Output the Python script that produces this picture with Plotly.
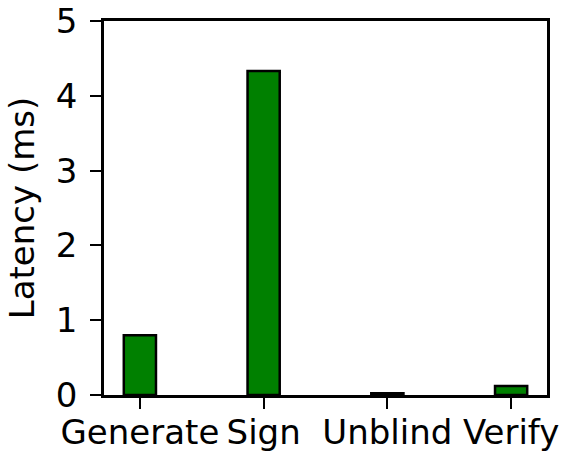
import plotly.graph_objects as go

categories = ["Generate", "Sign", "Unblind", "Verify"]
latency_ms = [0.80, 4.33, 0.025, 0.12]
y_ticks = [0, 1, 2, 3, 4, 5]

FONT = "DejaVu Sans"
FS = 34

fig = go.Figure()
fig.add_trace(go.Bar(
    x=categories,
    y=latency_ms,
    width=0.26,
    marker=dict(color="#008000", line=dict(color="black", width=2.5)),
))

fig.update_layout(
    width=562, height=453,
    margin=dict(l=104, r=15, t=21, b=58, autoexpand=False),
    paper_bgcolor="white",
    plot_bgcolor="white",
    showlegend=False,
    font=dict(family=FONT, size=FS, color="black"),
)
fig.update_xaxes(
    type="category",
    range=[-0.29, 3.29],
    automargin=False,
    showline=True, mirror=True, linecolor="black", linewidth=2.5,
    ticks="outside", ticklen=11, tickwidth=2, tickcolor="black",
    showgrid=False, zeroline=False,
    ticklabelstandoff=-6,
    tickfont=dict(family=FONT, size=FS, color="black"),
)
fig.update_yaxes(
    range=[0, 5],
    tickvals=y_ticks,
    ticktext=[str(v) for v in y_ticks],
    automargin=False,
    showline=True, mirror=True, linecolor="black", linewidth=2.5,
    ticks="outside", ticklen=11, tickwidth=2, tickcolor="black",
    showgrid=False, zeroline=False,
    ticklabelstandoff=6,
    tickfont=dict(family=FONT, size=FS, color="black"),
    title=dict(text="Latency (ms)", font=dict(family=FONT, size=FS, color="black"), standoff=11),
)

fig.write_html(
    "out.html",
    config={"displayModeBar": False},
    post_script="document.body.style.margin='0';document.body.style.overflow='hidden';",
)
